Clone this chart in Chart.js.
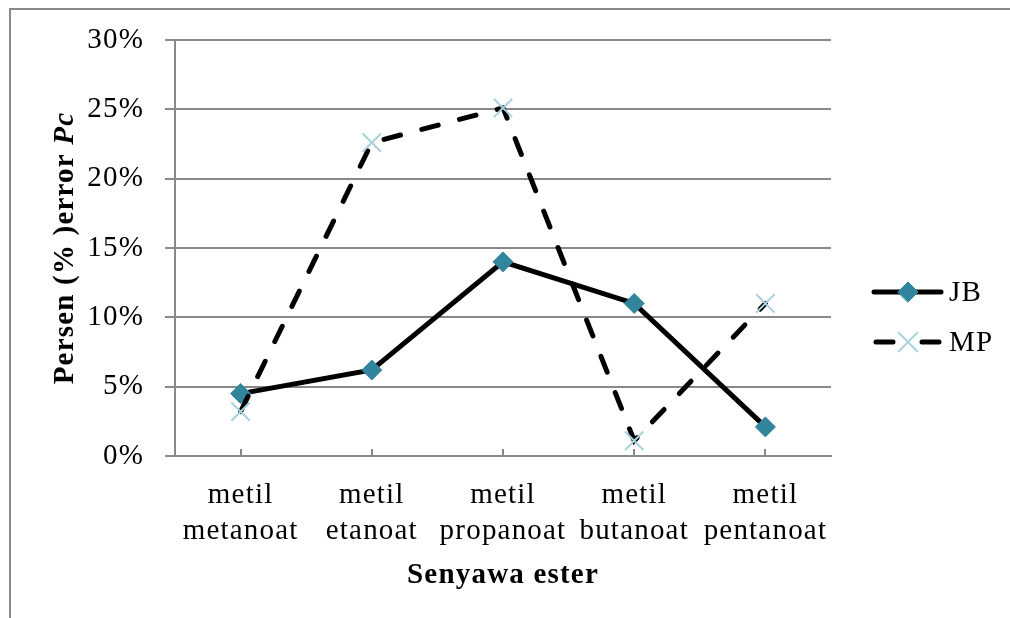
<!DOCTYPE html>
<html>
<head>
<meta charset="utf-8">
<script src="https://cdn.jsdelivr.net/npm/chart.js@4.4.1/dist/chart.umd.min.js"></script>
<style>
  html, body { margin: 0; padding: 0; background: #fff; overflow: hidden; }
  #frame { position: absolute; left: 9px; top: 8px; width: 1100px; height: 700px;
           border-left: 2px solid #898989; border-top: 2px solid #898989; }
  #chart { position: absolute; left: 0; top: 0; }
</style>
</head>
<body>
<div id="frame"></div>
<canvas id="chart" width="1010" height="618"></canvas>
<script>
// data (percent)
const categories = [["metil", "metanoat"], ["metil", "etanoat"], ["metil", "propanoat"], ["metil", "butanoat"], ["metil", "pentanoat"]];
const jbValues = [4.5, 6.2, 14.0, 11.0, 2.1];
const mpValues = [3.2, 22.6, 25.1, 1.1, 11.0];
const yTicks = [0, 5, 10, 15, 20, 25, 30];
const seriesNames = ["JB", "MP"];

const serif = "'Liberation Serif', 'Times New Roman', serif";
const fontSize = 29;
const track = "1.2px";
const gridGray = "#898989";
const teal = "#31859C";
const lightBlue = "#A9D2DF";

Chart.defaults.font.family = serif;
Chart.defaults.color = "#000";

// the source text is set a bit wider than plain Times
const spacing = {
  id: "spacing",
  beforeUpdate(chart) { chart.ctx.letterSpacing = track; },
  beforeDraw(chart) { chart.ctx.letterSpacing = track; }
};

// y title with italic "Pc"
const yTitle = {
  id: "yTitle",
  afterDraw(chart) {
    const ctx = chart.ctx, area = chart.chartArea;
    const p1 = "Persen (% )error ", p2 = "Pc";
    const f1 = "bold " + fontSize + "px " + serif, f2 = "italic bold " + fontSize + "px " + serif;
    ctx.save();
    ctx.letterSpacing = track;
    ctx.fillStyle = "#000";
    ctx.textBaseline = "alphabetic";
    ctx.textAlign = "left";
    ctx.font = f1; const w1 = ctx.measureText(p1).width;
    ctx.font = f2; const w2 = ctx.measureText(p2).width;
    ctx.translate(73, (area.top + area.bottom) / 2);
    ctx.rotate(-Math.PI / 2);
    ctx.font = f1; ctx.fillText(p1, -(w1 + w2) / 2, 0);
    ctx.font = f2; ctx.fillText(p2, -(w1 + w2) / 2 + w1, 0);
    ctx.restore();
  }
};

// legend: line sample with marker, like the source
const lineLegend = {
  id: "lineLegend",
  afterDraw(chart) {
    const ctx = chart.ctx, area = chart.chartArea;
    const x0 = area.right + 43, x1 = area.right + 110, mx = area.right + 77, tx = area.right + 118;
    const rows = [292, 342];
    chart.data.datasets.forEach((ds, i) => {
      const y = rows[i];
      ctx.save();
      ctx.strokeStyle = ds.borderColor;
      ctx.lineWidth = ds.borderWidth;
      ctx.lineCap = "round";
      ctx.beginPath();
      if (ds.borderDash) {
        ctx.moveTo(x0 + 2, y); ctx.lineTo(mx - 15, y);
        ctx.moveTo(mx + 14, y); ctx.lineTo(x1 - 2, y);
      } else {
        ctx.moveTo(x0, y); ctx.lineTo(x1, y);
      }
      ctx.stroke();
      ctx.fillStyle = ds.pointBackgroundColor || "transparent";
      ctx.strokeStyle = ds.pointBorderColor;
      ctx.lineWidth = ds.pointBorderWidth;
      Chart.helpers.drawPoint(ctx, { pointStyle: ds.pointStyle, radius: ds.pointRadius, borderWidth: ds.pointBorderWidth, rotation: 0 }, mx, y);
      ctx.letterSpacing = track;
      ctx.fillStyle = "#000";
      ctx.font = fontSize + "px " + serif;
      ctx.textAlign = "left";
      ctx.textBaseline = "middle";
      ctx.fillText(ds.label, tx, y + 1);
      ctx.restore();
    });
  }
};

new Chart(document.getElementById("chart"), {
  type: "line",
  data: {
    labels: categories,
    datasets: [
      {
        label: seriesNames[0],
        data: jbValues,
        borderColor: "#000",
        borderWidth: 5,
        pointStyle: "rectRot",
        pointRadius: 10,
        pointBackgroundColor: teal,
        pointBorderColor: teal,
        pointBorderWidth: 1,
        tension: 0,
        order: 1
      },
      {
        label: seriesNames[1],
        data: mpValues,
        borderColor: "#000",
        borderWidth: 5,
        borderDash: [17, 22],
        borderCapStyle: "round",
        pointStyle: "crossRot",
        pointRadius: 13,
        pointBorderColor: lightBlue,
        pointBorderWidth: 2,
        tension: 0,
        order: 0
      }
    ]
  },
  options: {
    responsive: false,
    animation: false,
    layout: { padding: { left: 0, top: 40, right: 179, bottom: 0 } },
    plugins: {
      legend: { display: false },
      tooltip: { enabled: false }
    },
    scales: {
      x: {
        offset: true,
        grid: { display: true, drawOnChartArea: false, drawTicks: true, tickLength: -7, color: gridGray, lineWidth: 2, offset: false },
        border: { display: true, color: gridGray, width: 2 },
        ticks: { font: { size: fontSize, lineHeight: 1.241 }, color: "#000", padding: 28, maxRotation: 0, autoSkip: false },
        title: { display: true, text: "Senyawa ester", color: "#000",
                 font: { size: fontSize, weight: "bold", lineHeight: 1.2 }, padding: { top: 0, bottom: 25 } },
        afterFit(scale) { scale.height = 162; }
      },
      y: {
        min: 0,
        max: 30,
        afterBuildTicks(scale) { scale.ticks = yTicks.map(v => ({ value: v })); },
        grid: { color: gridGray, lineWidth: 2, drawTicks: true, tickLength: 10 },
        border: { display: true, color: gridGray, width: 2 },
        ticks: { font: { size: fontSize }, color: "#000", padding: 21, callback: v => v + "%" },
        afterFit(scale) { scale.width = 175; }
      }
    }
  },
  plugins: [spacing, yTitle, lineLegend]
});
</script>
</body>
</html>
